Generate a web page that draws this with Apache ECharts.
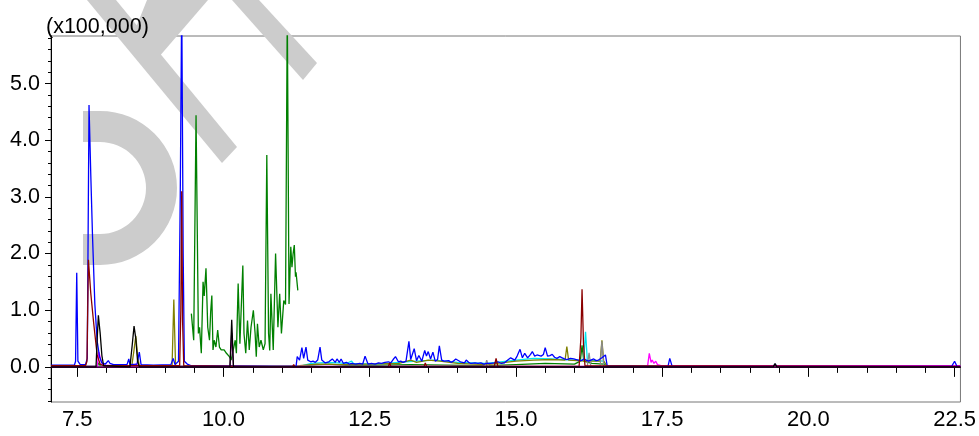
<!DOCTYPE html>
<html>
<head>
<meta charset="utf-8">
<script src="https://cdn.jsdelivr.net/npm/echarts@6/dist/echarts.min.js"></script>
<style>
  html, body { margin: 0; padding: 0; background: #ffffff; }
  #chart { width: 979px; height: 436px; }
</style>
</head>
<body>
<div id="chart"></div>
<script>
// Axis ranges and tick labels (retention time in min, intensity in units of 100,000)
const xRange = [7.05, 22.6];
const yRange = [-0.62, 5.84];
const xTickLabels = [7.5, 10.0, 12.5, 15.0, 17.5, 20.0, 22.5];
const yTickLabels = [0, 1, 2, 3, 4, 5];
const intensityUnit = '(x100,000)';

// Chromatogram traces: [retention time, intensity]
const traceBlue = [
  [7.05,0.03],[7.45,0.03],[7.47,0.1],[7.49,1.66],[7.51,0.1],[7.55,0.04],[7.64,0.04],[7.67,0.15],
  [7.70,4.62],[7.73,3.4],[7.76,2.3],[7.80,1.1],[7.84,0.45],[7.88,0.18],[7.92,0.07],[7.98,0.05],
  [8.03,0.11],[8.06,0.06],[8.12,0.04],[8.35,0.04],[8.38,0.14],[8.40,0.04],[8.52,0.05],[8.56,0.26],
  [8.59,0.04],[8.8,0.03],[9.1,0.04],[9.14,0.15],[9.17,0.04],[9.23,0.1],[9.26,3.0],[9.285,6.5],
  [9.31,2.0],[9.33,0.1],[9.38,0.05],[9.45,0.02],[10.9,0.01],[10.92,0.04],[10.94,0.01],[11.24,0.01],
  [11.26,0.18],[11.30,0.12],[11.34,0.34],[11.37,0.15],[11.41,0.35],[11.44,0.12],[11.49,0.09],[11.53,0.1],
  [11.57,0.08],[11.61,0.12],[11.65,0.35],[11.68,0.12],[11.74,0.07],[11.80,0.09],[11.86,0.14],[11.91,0.08],
  [11.94,0.14],[11.98,0.08],[12.01,0.14],[12.05,0.06],[12.10,0.08],[12.15,0.05],[12.19,0.06],[12.26,0.05],
  [12.33,0.06],[12.38,0.05],[12.42,0.19],[12.47,0.05],[12.53,0.06],[12.59,0.05],[12.65,0.07],[12.70,0.06],
  [12.76,0.08],[12.82,0.09],[12.86,0.07],[12.90,0.13],[12.94,0.18],[12.99,0.09],[13.03,0.1],[13.07,0.08],
  [13.12,0.1],[13.17,0.45],[13.20,0.13],[13.23,0.16],[13.26,0.32],[13.30,0.11],[13.34,0.2],[13.39,0.1],
  [13.44,0.29],[13.47,0.19],[13.50,0.27],[13.54,0.14],[13.58,0.26],[13.62,0.1],[13.66,0.13],[13.69,0.37],
  [13.73,0.12],[13.77,0.1],[13.80,0.09],[13.85,0.11],[13.89,0.08],[13.93,0.1],[13.97,0.14],[14.0,0.12],
  [14.05,0.09],[14.12,0.07],[14.15,0.12],[14.19,0.08],[14.23,0.06],[14.30,0.07],[14.35,0.06],[14.40,0.07],
  [14.45,0.05],[14.50,0.06],[14.57,0.06],[14.63,0.07],[14.69,0.09],[14.75,0.06],[14.80,0.07],[14.86,0.12],
  [14.91,0.16],[14.98,0.12],[15.02,0.19],[15.07,0.31],[15.11,0.16],[15.15,0.24],[15.2,0.16],[15.25,0.22],
  [15.28,0.27],[15.32,0.19],[15.36,0.21],[15.39,0.24],[15.43,0.19],[15.47,0.22],[15.5,0.34],[15.54,0.19],
  [15.58,0.2],[15.62,0.22],[15.66,0.17],[15.7,0.15],[15.75,0.18],[15.79,0.16],[15.83,0.14],[15.87,0.13],
  [15.93,0.15],[15.99,0.14],[16.03,0.13],[16.07,0.12],[16.12,0.11],[16.16,0.14],[16.2,0.12],[16.24,0.1],
  [16.28,0.12],[16.33,0.14],[16.37,0.11],[16.41,0.12],[16.44,0.1],[16.47,0.16],[16.5,0.15],[16.53,0.21],
  [16.56,0.02],[17.6,0.01],[17.63,0.15],[17.67,0.01],[19.4,0.01],[19.43,0.05],[19.46,0.01],[22.45,0.01],
  [22.5,0.1],[22.54,0.01],[22.6,0.01]
];
const traceDarkRed = [
  [7.05,0.02],[7.64,0.02],[7.665,0.1],[7.69,1.89],[7.73,1.3],[7.78,0.77],[7.84,0.2],[7.89,0.05],
  [7.95,0.02],[9.25,0.02],[9.27,1.0],[9.285,3.1],[9.30,0.8],[9.32,0.02],[11.18,0.0],[11.2,0.04],
  [11.22,0.0],[12.82,0.01],[12.84,0.07],[12.86,0.01],[13.43,0.01],[13.45,0.07],[13.47,0.01],[14.63,0.01],
  [14.66,0.15],[14.69,0.01],[16.08,0.01],[16.11,0.5],[16.13,1.37],[16.155,0.4],[16.18,0.02],[22.6,0.01]
];
const traceBlack = [
  [7.05,0],[7.82,0],[7.84,0.5],[7.86,0.91],[7.875,0.75],[7.89,0.6],[7.92,0.2],[7.95,0.02],
  [8.40,0],[8.44,0.4],[8.47,0.72],[8.50,0.5],[8.53,0.1],[8.56,0],[10.11,0],[10.14,0.83],
  [10.17,0],[19.40,0],[19.43,0.06],[19.46,0],[22.6,0]
];
const traceOlive = [
  [7.05,0.01],[8.43,0.01],[8.47,0.3],[8.50,0.55],[8.53,0.2],[8.56,0.01],[9.12,0.01],[9.15,1.19],
  [9.18,0.01],[11.3,0.02],[11.6,0.05],[12.0,0.04],[12.5,0.05],[13.0,0.06],[13.2,0.12],[13.3,0.08],
  [13.5,0.12],[13.7,0.1],[14.0,0.06],[14.5,0.04],[15.0,0.1],[15.3,0.12],[15.6,0.13],[15.84,0.12],
  [15.87,0.36],[15.9,0.12],[16.2,0.1],[16.44,0.1],[16.47,0.47],[16.5,0.1],[16.53,0.08],[16.56,0.01],
  [22.6,0.01]
];
const traceMagenta = [
  [7.05,0.01],[7.84,0.01],[7.87,0.26],[7.9,0.12],[7.93,0.05],[7.97,0.03],[8.45,0.01],[8.5,0.05],
  [8.55,0.01],[17.25,0.01],[17.28,0.24],[17.31,0.08],[17.33,0.12],[17.36,0.06],[17.39,0.1],[17.42,0.04],
  [17.45,0.07],[17.48,0.02],[22.6,0.02]
];
const traceGreen = [
  [7.05,0.01],[7.84,0.01],[7.86,0.07],[7.9,0.01],[11.3,0.01],[11.5,0.03],[11.8,0.05],[12.2,0.02],
  [13.2,0.04],[13.8,0.03],[14.5,0.02],[15.0,0.04],[15.5,0.06],[16.0,0.05],[16.1,0.1],[16.13,0.38],
  [16.16,0.1],[16.3,0.06],[16.5,0.05],[16.55,0.01],[22.6,0.01]
];
const traceGreenWindow = [
  [9.45,0.94],[9.48,0.97],[9.49,0.47],[9.53,4.44],[9.57,0.59],[9.59,0.7],[9.62,0.24],[9.65,1.5],
  [9.67,1.25],[9.70,1.74],[9.73,0.7],[9.76,0.47],[9.78,0.97],[9.80,1.26],[9.82,0.3],[9.84,0.47],
  [9.87,0.35],[9.90,0.65],[9.93,0.35],[9.96,0.3],[10.01,0.3],[10.05,0.24],[10.10,0.18],[10.13,0.12],
  [10.16,0.15],[10.2,0.47],[10.22,0.24],[10.25,1.47],[10.28,0.41],[10.33,1.79],[10.35,0.59],[10.38,0.24],
  [10.41,0.82],[10.44,0.3],[10.47,0.7],[10.51,1.0],[10.54,0.59],[10.56,0.18],[10.58,0.76],[10.61,0.35],
  [10.64,0.47],[10.68,0.3],[10.71,0.41],[10.74,3.74],[10.77,0.59],[10.79,0.29],[10.81,1.29],[10.85,0.3],
  [10.89,2.0],[10.93,0.7],[10.96,1.29],[10.99,0.59],[11.03,1.17],[11.06,1.1],[11.09,6.3],[11.12,1.11],
  [11.15,2.12],[11.17,1.76],[11.19,2.0],[11.21,2.15],[11.23,1.59],[11.24,1.67],[11.27,1.35]
];
const traceCyan = [
  [7.05,0.01],[11.3,0.01],[11.5,0.06],[11.8,0.08],[12.1,0.06],[12.19,0.1],[12.22,0.06],[12.6,0.05],
  [13.0,0.08],[13.3,0.1],[13.6,0.12],[14.0,0.08],[14.5,0.06],[15.0,0.12],[15.3,0.15],[15.6,0.14],
  [16.0,0.12],[16.16,0.12],[16.19,0.62],[16.22,0.12],[16.5,0.1],[16.55,0.01],[22.6,0.01]
];
const traceGray = [
  [7.05,0.01],[14.47,0.01],[14.5,0.12],[14.53,0.01],[16.22,0.01],[16.25,0.25],[16.28,0.01],[16.44,0.01],
  [16.47,0.45],[16.5,0.01],[22.6,0.01]
];
const tracePurple = [
  [7.05,0],[10.11,0],[10.14,0.6],[10.17,0],[22.6,0]
];

// Minor tick positions follow the major steps (0.5 on x, 0.2 on y)
const xMinorTicks = [];
for (let i = 15; i <= 45; i++) xMinorTicks.push(+(i * 0.5).toFixed(1));
const yMinorTicks = [];
for (let i = -3; i <= 29; i++) yMinorTicks.push(+(i * 0.2).toFixed(1));

const fontFamily = '"Liberation Sans", Arial, sans-serif';

function trace(name, data, color) {
  return {
    name, type: 'line', data, showSymbol: false, symbol: 'none',
    lineStyle: { color, width: 1.3 }, itemStyle: { color },
    silent: true, animation: false, clip: true
  };
}

// Gray letter shapes sitting behind the plot
const watermark = [
  { type: 'sector', shape: { cx: 100, cy: 188, r: 77, r0: 46, startAngle: -Math.PI / 2, endAngle: Math.PI / 2 },
    style: { fill: '#cccccc' }, z: 0, silent: true },
  { type: 'rect', shape: { x: 83, y: 111, width: 18, height: 31 }, style: { fill: '#cccccc' }, z: 0, silent: true },
  { type: 'rect', shape: { x: 83, y: 234, width: 18, height: 31 }, style: { fill: '#cccccc' }, z: 0, silent: true },
  { type: 'polygon', shape: { points: [[87, 0], [116, 0], [237, 147], [222, 163]] }, style: { fill: '#cccccc' }, z: 0, silent: true },
  { type: 'polygon', shape: { points: [[147, 0], [208, 0], [158, 58], [135, 30]] }, style: { fill: '#cccccc' }, z: 0, silent: true },
  { type: 'polygon', shape: { points: [[232, 0], [259, 0], [317, 63], [303, 80]] }, style: { fill: '#cccccc' }, z: 0, silent: true }
];

const chart = echarts.init(document.getElementById('chart'), null, { renderer: 'canvas' });
chart.setOption({
  animation: false,
  backgroundColor: '#ffffff',
  title: {
    text: intensityUnit, left: 41, top: 11,
    textStyle: { fontFamily, fontSize: 21.5, fontWeight: 'normal', color: '#000' }
  },
  graphic: watermark,
  grid: { left: 51, right: 14, top: 36, bottom: 34, show: true, borderColor: '#777777', borderWidth: 1, backgroundColor: 'transparent' },
  xAxis: [
    {
      type: 'value', min: xRange[0], max: xRange[1], position: 'bottom',
      axisLine: { show: true, lineStyle: { color: '#000', width: 1 } },
      axisTick: { show: true, customValues: xTickLabels, length: 10, lineStyle: { color: '#000' } },
      axisLabel: { customValues: xTickLabels, formatter: v => v.toFixed(1), fontFamily, fontSize: 22, color: '#000', margin: 7 },
      splitLine: { show: false }
    },
    {
      type: 'value', min: xRange[0], max: xRange[1], position: 'bottom',
      axisLine: { show: false },
      axisTick: { show: true, customValues: xMinorTicks, length: 6, lineStyle: { color: '#000' } },
      axisLabel: { show: false },
      splitLine: { show: false }
    }
  ],
  yAxis: [
    {
      type: 'value', min: yRange[0], max: yRange[1], position: 'left',
      axisLine: { show: true, lineStyle: { color: '#000', width: 1 } },
      axisTick: { show: true, customValues: yTickLabels, length: 6, lineStyle: { color: '#000' } },
      axisLabel: { customValues: yTickLabels, formatter: v => v.toFixed(1), fontFamily, fontSize: 21.5, color: '#000', margin: 11 },
      splitLine: { show: false }
    },
    {
      type: 'value', min: yRange[0], max: yRange[1], position: 'left',
      axisLine: { show: false },
      axisTick: { show: true, customValues: yMinorTicks, length: 3, lineStyle: { color: '#000' } },
      axisLabel: { show: false },
      splitLine: { show: false }
    }
  ],
  series: [
    trace('green', traceGreen, '#008000'),
    trace('cyan', traceCyan, '#00e5ee'),
    trace('olive', traceOlive, '#808000'),
    trace('gray', traceGray, '#8c8c8c'),
    trace('green window', traceGreenWindow, '#008000'),
    trace('magenta', traceMagenta, '#ff00ff'),
    trace('blue', traceBlue, '#0000ff'),
    trace('dark red', traceDarkRed, '#8b0000'),
    trace('purple', tracePurple, '#800080'),
    trace('black', traceBlack, '#000000')
  ]
});
</script>
</body>
</html>
